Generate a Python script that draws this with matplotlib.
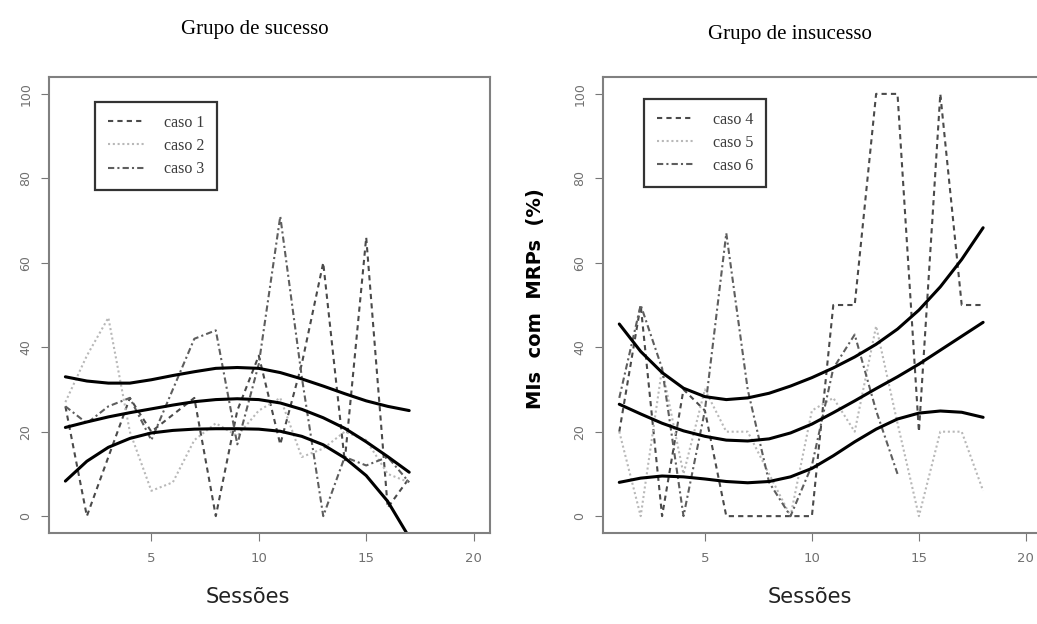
import numpy as np
import matplotlib.pyplot as plt

# sessões
sess_a = np.arange(1, 18)
sess_b = np.arange(1, 19)

# grupo de sucesso
caso1 = [26, 0, 14, 28, 20, 24, 28, 0, 25, 38, 17, 36, 60, 13, 66, 2, 9]
caso2 = [27, 38, 47, 20, 6, 8, 18, 22, 19, 25, 28, 14, 16, 20, 18, 10, 8]
caso3 = [26, 22, 26, 28, 18, 30, 42, 44, 17, 36, 71, 33, 0, 14, 12, 14, 8]
sup_a = [33, 32, 31.5, 31.5, 32.3, 33.3, 34.2, 35, 35.2, 35, 34, 32.5, 30.8, 29, 27.3, 26, 25]
med_a = [21, 22.3, 23.5, 24.5, 25.4, 26.3, 27.1, 27.6, 27.8, 27.6, 26.8, 25.3, 23.3, 20.8, 17.6, 14.1, 10.4]
inf_a = [8.3, 13, 16.3, 18.4, 19.7, 20.3, 20.6, 20.7, 20.7, 20.6, 20.1, 18.9, 16.9, 13.8, 9.6, 3.5, -5]

# grupo de insucesso
caso4 = [20, 50, 0, 30, 25, 0, 0, 0, 0, 0, 50, 50, 100, 100, 20, 100, 50, 50]
caso5 = [20, 0, 35, 10, 30, 20, 20, 10, 0, 25, 28, 20, 45, 22, 0, 20, 20, 6]
caso6 = [28, 50, 35, 0, 25, 67, 30, 8, 0, 12, 35, 43, 25, 10, np.nan, np.nan, np.nan, np.nan]
sup_b = [45.5, 39, 34, 30.3, 28.3, 27.6, 28, 29.1, 30.8, 32.8, 35.1, 37.7, 40.7, 44.3, 48.8, 54.3, 60.8, 68.3]
med_b = [26.5, 24.2, 22, 20.2, 18.9, 18, 17.8, 18.3, 19.7, 21.8, 24.5, 27.3, 30.2, 33, 36, 39.3, 42.6, 45.9]
inf_b = [8, 9, 9.5, 9.3, 8.8, 8.2, 7.9, 8.2, 9.3, 11.3, 14.3, 17.6, 20.6, 23, 24.4, 24.9, 24.6, 23.4]

estilos = [((0, (2.5, 2)), '#4a4a4a'), ((0, (1, 1.3)), '#b8b8b8'), ((0, (3, 1.5, 1, 1.5)), '#5e5e5e')]

fig = plt.figure(figsize=(10.37, 6.24), dpi=100)
ax1 = fig.add_axes([0.0473, 0.1458, 0.4252, 0.7308])
ax2 = fig.add_axes([0.5815, 0.1458, 0.4235, 0.7308])


def painel(ax, x, casos, nomes, curvas, leg_pos):
    for y, nome, (ls, cor) in zip(casos, nomes, estilos):
        ax.plot(x, y, linestyle=ls, color=cor, lw=1.5, label=nome)
    for c in curvas:
        ax.plot(x, c, color='black', lw=2.2, solid_capstyle='round',
                solid_joinstyle='round')
    ax.set_xlim(0.24, 20.76)
    ax.set_ylim(-4, 104)
    ax.set_xticks([5, 10, 15, 20])
    ax.set_yticks([0, 20, 40, 60, 80, 100])
    ax.tick_params(axis='y', labelrotation=90, labelsize=9, labelcolor='#707070',
                   color='#777777', length=6, pad=6)
    ax.tick_params(axis='x', labelsize=9.5, labelcolor='#707070', color='#777777',
                   length=6, pad=8)
    for lbl in ax.get_yticklabels():
        lbl.set_va('center')
    for s in ax.spines.values():
        s.set_color('#808080')
        s.set_linewidth(1.5)
    leg = ax.legend(loc='upper left', bbox_to_anchor=leg_pos, frameon=True,
                    fancybox=False, edgecolor='black', handlelength=2.3,
                    handletextpad=1.2, borderpad=0.8, labelspacing=0.45,
                    borderaxespad=0,
                    prop={'family': 'Liberation Serif', 'size': 11.5})
    leg.get_frame().set_linewidth(1.6)
    for t in leg.get_texts():
        t.set_color('#3a3a3a')


painel(ax1, sess_a, [caso1, caso2, caso3], ['caso 1', 'caso 2', 'caso 3'],
       [sup_a, med_a, inf_a], (0.104, 0.945))
painel(ax2, sess_b, [caso4, caso5, caso6], ['caso 4', 'caso 5', 'caso 6'],
       [sup_b, med_b, inf_b], (0.093, 0.952))

fig.text(0.246, 0.952, 'Grupo de sucesso', ha='center', va='center',
         family='Liberation Serif', fontsize=15)
fig.text(0.762, 0.944, 'Grupo de insucesso', ha='center', va='center',
         family='Liberation Serif', fontsize=15)
fig.text(0.239, 0.043, 'Sessões', ha='center', va='center', fontsize=15, color='#222222')
fig.text(0.781, 0.043, 'Sessões', ha='center', va='center', fontsize=15, color='#222222')
fig.text(0.516, 0.522, 'MIs  com  MRPs  (%)', ha='center', va='center', rotation=90,
         fontsize=14, fontweight='bold')

fig.savefig('out.png', dpi=100)
